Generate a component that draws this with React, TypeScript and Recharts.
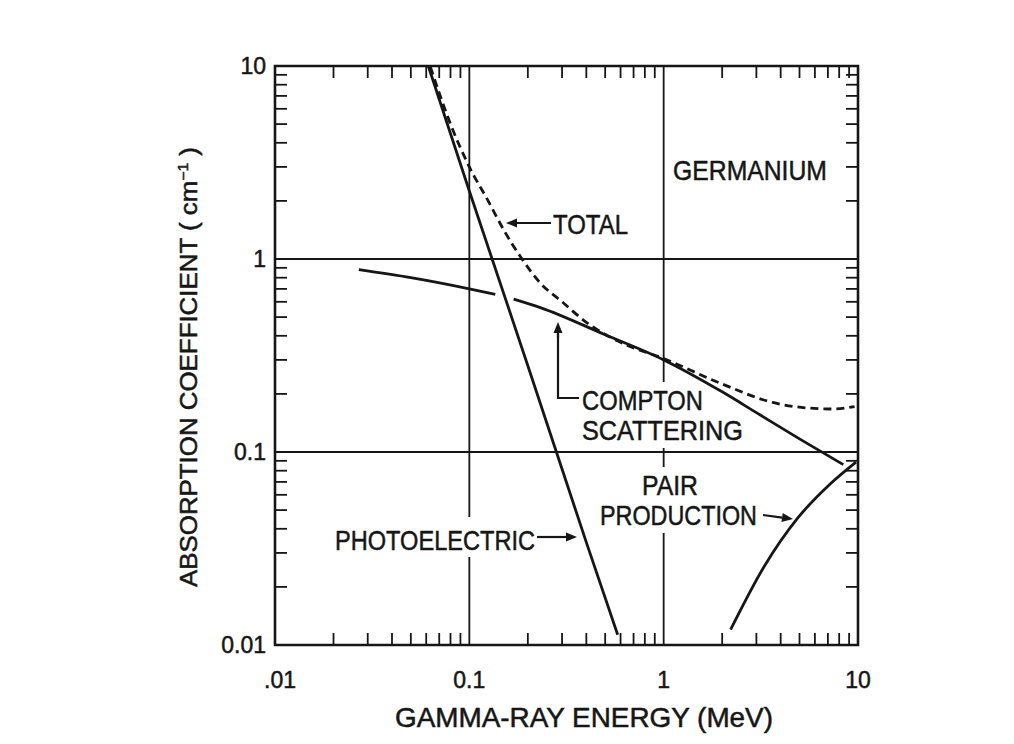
import { LineChart, Line, XAxis, YAxis, ReferenceLine, ReferenceArea } from "recharts";

const INK = "#161616";
const FONT = "'Liberation Sans', Arial, sans-serif";

const CHART_W = 1000;
const CHART_H = 728;
const MARGIN = { top: 58, right: 150, bottom: 31, left: 207 };
const Y_AXIS_W = 60;
const X_AXIS_H = 60;
const PLOT_W = CHART_W - MARGIN.left - Y_AXIS_W - MARGIN.right;
const PLOT_H = CHART_H - MARGIN.top - MARGIN.bottom - X_AXIS_H;
const TICK_LEN = 12;

// log-log axes, both spanning 0.01 .. 10
const decades = [0.01, 0.1, 1, 10];
const energyLabels = [".01", "0.1", "1", "10"];
const coeffLabels = ["0.01", "0.1", "1", "10"];
const minorTicks = decades
  .slice(0, 3)
  .flatMap((d) => [2, 3, 4, 5, 6, 7, 8, 9].map((k) => +(d * k).toPrecision(3)));
const allTicks = [...decades, ...minorTicks].sort((a, b) => a - b);
const gridValues = [0.1, 1];

// absorption coefficient in germanium (cm^-1) against photon energy (MeV)
const photoelectric = [
  { e: 0.0615, v: 10 },
  { e: 0.1, v: 2.25 },
  { e: 0.131, v: 1.0 },
  { e: 0.2, v: 0.28 },
  { e: 0.277, v: 0.104 },
  { e: 0.4, v: 0.034 },
  { e: 0.58, v: 0.0113 },
];

const compton = [
  { e: 0.027, v: 0.88 },
  { e: 0.05, v: 0.8 },
  { e: 0.1, v: 0.7 },
  { e: 0.136, v: 0.655 },
  { e: 0.15, v: null }, // break where the photoelectric line crosses
  { e: 0.169, v: 0.62 },
  { e: 0.232, v: 0.56 },
  { e: 0.5, v: 0.405 },
  { e: 1, v: 0.3 },
  { e: 2, v: 0.205 },
  { e: 3, v: 0.16 },
  { e: 5, v: 0.117 },
  { e: 8.4, v: 0.086 },
];

const pairProduction = [
  { e: 2.21, v: 0.012 },
  { e: 3.29, v: 0.0255 },
  { e: 4.89, v: 0.0454 },
  { e: 7.26, v: 0.0689 },
  { e: 9.77, v: 0.0887 },
];

const total = [
  { e: 0.063, v: 9.9 },
  { e: 0.08, v: 5.0 },
  { e: 0.1, v: 3.0 },
  { e: 0.125, v: 2.0 },
  { e: 0.15, v: 1.42 },
  { e: 0.183, v: 1.03 },
  { e: 0.232, v: 0.75 },
  { e: 0.3, v: 0.6 },
  { e: 0.4, v: 0.47 },
  { e: 0.6, v: 0.37 },
  { e: 1, v: 0.305 },
  { e: 2, v: 0.225 },
  { e: 3.69, v: 0.18 },
  { e: 5.52, v: 0.169 },
  { e: 7.5, v: 0.167 },
  { e: 9.6, v: 0.172 },
];

const textStyle = { fontFamily: FONT, fill: INK, stroke: INK, strokeWidth: 0.5 };

function EnergyTick({ x, y, payload }: any) {
  const i = decades.indexOf(payload.value);
  if (i >= 0) {
    return (
      <text x={x + (i === 0 ? 5 : 0)} y={y + 43} textAnchor="middle" fontSize={23} {...textStyle}>
        {energyLabels[i]}
      </text>
    );
  }
  // minor ticks point inward on bottom and top edges
  return (
    <g stroke={INK} strokeWidth={1.8}>
      <line x1={x} x2={x} y1={y} y2={y - TICK_LEN} />
      <line x1={x} x2={x} y1={y - PLOT_H} y2={y - PLOT_H + TICK_LEN} />
    </g>
  );
}

function CoeffTick({ x, y, payload }: any) {
  const i = decades.indexOf(payload.value);
  if (i >= 0) {
    return (
      <text x={x - 9} y={y} dy="0.36em" textAnchor="end" fontSize={23} {...textStyle}>
        {coeffLabels[i]}
      </text>
    );
  }
  return (
    <g stroke={INK} strokeWidth={1.8}>
      <line x1={x} x2={x + TICK_LEN} y1={y} y2={y} />
      <line x1={x + PLOT_W} x2={x + PLOT_W - TICK_LEN} y1={y} y2={y} />
    </g>
  );
}

function Arrow({ x1, y1, x2, y2 }: { x1: number; y1: number; x2: number; y2: number }) {
  const a = Math.atan2(y2 - y1, x2 - x1);
  const len = 11;
  const half = 4.5;
  const bx = x2 - len * Math.cos(a);
  const by = y2 - len * Math.sin(a);
  const pts = `${x2},${y2} ${bx - half * Math.sin(a)},${by + half * Math.cos(a)} ${bx + half * Math.sin(a)},${by - half * Math.cos(a)}`;
  return (
    <g>
      <line x1={x1} y1={y1} x2={bx} y2={by} stroke={INK} strokeWidth={2.2} />
      <polygon points={pts} fill={INK} />
    </g>
  );
}

function Label({ x, y, len, text, size = 28, anchor = "start" }: any) {
  return (
    <text
      x={x}
      y={y}
      fontSize={size}
      textAnchor={anchor}
      textLength={len}
      lengthAdjust="spacingAndGlyphs"
      {...textStyle}
    >
      {text}
    </text>
  );
}

export default function App() {
  return (
    <div style={{ position: "relative", width: CHART_W, height: CHART_H, background: "#fff" }}>
      <LineChart width={CHART_W} height={CHART_H} margin={MARGIN}>
        <XAxis
          dataKey="e"
          type="number"
          scale="log"
          domain={[0.01, 10]}
          allowDataOverflow
          ticks={allTicks}
          interval={0}
          tickSize={0}
          tickMargin={0}
          tickLine={false}
          axisLine={false}
          height={X_AXIS_H}
          tick={(p: any) => <EnergyTick {...p} />}
        />
        <YAxis
          type="number"
          scale="log"
          domain={[0.01, 10]}
          allowDataOverflow
          ticks={allTicks}
          interval={0}
          tickSize={0}
          tickMargin={0}
          tickLine={false}
          axisLine={false}
          width={Y_AXIS_W}
          tick={(p: any) => <CoeffTick {...p} />}
        />
        {gridValues.map((v) => (
          <ReferenceLine key={`gx${v}`} x={v} stroke={INK} strokeWidth={1.8} />
        ))}
        {gridValues.map((v) => (
          <ReferenceLine key={`gy${v}`} y={v} stroke={INK} strokeWidth={1.8} />
        ))}
        <ReferenceArea
          x1={0.01}
          x2={10}
          y1={0.01}
          y2={10}
          fill="none"
          fillOpacity={0}
          stroke={INK}
          strokeWidth={2.6}
        />
        <Line data={photoelectric} dataKey="v" type="linear" stroke={INK} strokeWidth={2.8} dot={false} isAnimationActive={false} />
        <Line data={compton} dataKey="v" type="monotone" stroke={INK} strokeWidth={2.8} dot={false} isAnimationActive={false} />
        <Line data={pairProduction} dataKey="v" type="monotone" stroke={INK} strokeWidth={2.8} dot={false} isAnimationActive={false} />
        <Line
          data={total}
          dataKey="v"
          type="monotone"
          stroke={INK}
          strokeWidth={2.8}
          strokeDasharray="8 5"
          dot={false}
          isAnimationActive={false}
        />
      </LineChart>

      <svg
        width={CHART_W}
        height={CHART_H}
        style={{ position: "absolute", left: 0, top: 0, overflow: "visible", pointerEvents: "none" }}
      >
        {/* breaks in the grid lines behind the labels */}
        <rect x={651} y={374} width={10} height={66} fill="#fff" />
        <rect x={651} y={459} width={10} height={66} fill="#fff" />
        <rect x={457} y={509} width={10} height={40} fill="#fff" />

        <Label x={665} y={172} len={154} text="GERMANIUM" />

        <Arrow x1={543} y1={215} x2={498} y2={215} />
        <Label x={545} y={226} len={75} text="TOTAL" />

        <Label x={574} y={402} len={121} text="COMPTON" />
        <Label x={574} y={432} len={161} text="SCATTERING" />
        <path d="M571,390 H550 V326" fill="none" stroke={INK} strokeWidth={2.2} />
        <Arrow x1={550} y1={330} x2={550} y2={314} />

        <Label x={634} y={487} len={56} text="PAIR" />
        <Label x={592} y={517} len={157} text="PRODUCTION" />
        <Arrow x1={755} y1={507} x2={785} y2={511} />

        <Label x={327} y={542} len={200} text="PHOTOELECTRIC" />
        <Arrow x1={529} y1={529} x2={569} y2={529} />

        <Label x={576} y={719} len={378} text="GAMMA-RAY ENERGY (MeV)" anchor="middle" />

        <text
          transform="translate(189,359) rotate(-90)"
          textAnchor="middle"
          fontSize={23}
          textLength={440}
          lengthAdjust="spacingAndGlyphs"
          {...textStyle}
        >
          ABSORPTION COEFFICIENT ( cm
          <tspan dy={-9} fontSize={14}>
            −1
          </tspan>
          <tspan dy={9}> )</tspan>
        </text>
      </svg>
    </div>
  );
}
